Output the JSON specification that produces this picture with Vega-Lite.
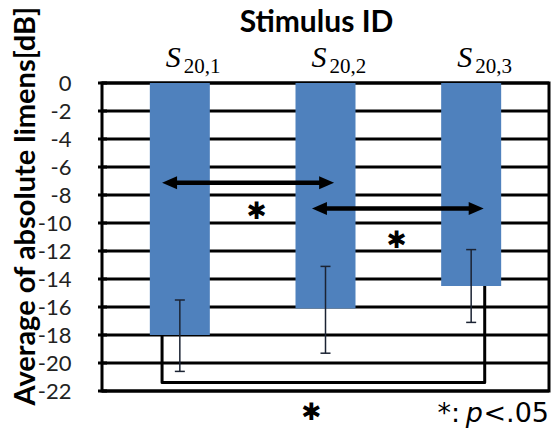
{
  "$schema": "https://vega.github.io/schema/vega-lite/v6.json",
  "width": 447,
  "height": 308,
  "autosize": {"type": "none"},
  "padding": {"left": 102, "top": 83, "right": 6, "bottom": 39},
  "background": "white",
  "config": {
    "view": {"stroke": "black", "strokeWidth": 3},
    "font": "Lato"
  },
  "resolve": {"axis": {"x": "independent", "y": "independent"}},
  "datasets": {
    "gridvals": [
      {"v": 0}, {"v": -2}, {"v": -4}, {"v": -6}, {"v": -8}, {"v": -10},
      {"v": -12}, {"v": -14}, {"v": -16}, {"v": -18}, {"v": -20}, {"v": -22}
    ],
    "bars": [
      {"x": 0.5, "sub": "20,1", "mean": -18.0, "hi": -15.5, "lo": -20.6},
      {"x": 1.5, "sub": "20,2", "mean": -16.1, "hi": -13.1, "lo": -19.3},
      {"x": 2.5, "sub": "20,3", "mean": -14.5, "hi": -11.9, "lo": -17.1}
    ],
    "arrows": [
      {"y": -7.13, "x1": 0.378, "x2": 1.559},
      {"y": -8.97, "x1": 1.407, "x2": 2.586}
    ],
    "bracket": [
      {"o": 1, "x": 0.378, "y": -18.0},
      {"o": 2, "x": 0.378, "y": -21.4},
      {"o": 3, "x": 2.593, "y": -21.4},
      {"o": 4, "x": 2.593, "y": -14.5}
    ],
    "stars": [
      {"x": 1.027, "y": -9.22},
      {"x": 1.987, "y": -11.25},
      {"x": 1.403, "y": -23.6}
    ]
  },
  "layer": [
    {
      "data": {"name": "gridvals"},
      "mark": {"type": "rule", "color": "black", "strokeWidth": 3},
      "encoding": {
        "y": {"field": "v", "type": "quantitative", "scale": {"domain": [-22, 0], "nice": false, "zero": false}, "axis": null}
      }
    },
    {
      "data": {"name": "gridvals"},
      "mark": {"type": "rule", "color": "black", "strokeWidth": 3, "xOffset": -9, "clip": false},
      "encoding": {
        "x": {"datum": 0, "type": "quantitative", "scale": {"domain": [0, 3], "nice": false, "zero": false}, "axis": null},
        "x2": {"datum": 0},
        "y": {"field": "v", "type": "quantitative", "scale": {"domain": [-22, 0], "nice": false, "zero": false}, "axis": null}
      }
    },
    {
      "data": {"name": "bars"},
      "mark": {"type": "bar", "width": 60, "color": "#4F81BD"},
      "encoding": {
        "x": {
          "field": "x", "type": "quantitative",
          "scale": {"domain": [0, 3], "nice": false, "zero": false},
          "axis": {
            "orient": "top", "title": "Stimulus ID", "labels": false, "ticks": false,
            "domain": false, "grid": false,
            "titleFont": "Lato", "titleFontSize": 30, "titleFontWeight": "bold", "titleColor": "black",
            "titleX": 214, "titleY": -52, "titleBaseline": "alphabetic", "titleAlign": "center"
          }
        },
        "y": {
          "field": "mean", "type": "quantitative",
          "scale": {"domain": [-22, 0], "nice": false, "zero": false},
          "axis": {
            "values": [0, -2, -4, -6, -8, -10, -12, -14, -16, -18, -20, -22],
            "labelExpr": "datum.value < 0 ? '-' + abs(datum.value) : '0'",
            "labelOverlap": false, "labelFlush": false,
            "grid": false, "domain": false, "ticks": false,
            "labelFont": "Lato", "labelFontSize": 22, "labelColor": "#222", "labelPadding": 31,
            "title": "Average of absolute limens[dB]",
            "titleFont": "Lato", "titleFontSize": 29, "titleFontWeight": "bold", "titleColor": "black",
            "titleX": -68, "titleY": 322, "titleAlign": "left", "titleBaseline": "alphabetic", "titleAngle": -90
          }
        },
        "y2": {"datum": 0}
      }
    },
    {
      "data": {"name": "bars"},
      "mark": {"type": "rule", "color": "#1b2333", "strokeWidth": 1.5},
      "encoding": {
        "x": {"field": "x", "type": "quantitative", "scale": {"domain": [0, 3], "nice": false, "zero": false}, "axis": null},
        "y": {"field": "hi", "type": "quantitative", "scale": {"domain": [-22, 0], "nice": false, "zero": false}, "axis": null},
        "y2": {"field": "lo"}
      }
    },
    {
      "data": {"name": "bars"},
      "mark": {"type": "tick", "orient": "horizontal", "size": 10, "thickness": 1.5, "color": "#1b2333", "opacity": 1},
      "encoding": {
        "x": {"field": "x", "type": "quantitative", "scale": {"domain": [0, 3], "nice": false, "zero": false}, "axis": null},
        "y": {"field": "hi", "type": "quantitative", "scale": {"domain": [-22, 0], "nice": false, "zero": false}, "axis": null}
      }
    },
    {
      "data": {"name": "bars"},
      "mark": {"type": "tick", "orient": "horizontal", "size": 10, "thickness": 1.5, "color": "#1b2333", "opacity": 1},
      "encoding": {
        "x": {"field": "x", "type": "quantitative", "scale": {"domain": [0, 3], "nice": false, "zero": false}, "axis": null},
        "y": {"field": "lo", "type": "quantitative", "scale": {"domain": [-22, 0], "nice": false, "zero": false}, "axis": null}
      }
    },
    {
      "data": {"name": "bracket"},
      "mark": {"type": "line", "color": "black", "strokeWidth": 3, "strokeJoin": "round", "clip": false},
      "encoding": {
        "x": {"field": "x", "type": "quantitative", "scale": {"domain": [0, 3], "nice": false, "zero": false}, "axis": null},
        "y": {"field": "y", "type": "quantitative", "scale": {"domain": [-22, 0], "nice": false, "zero": false}, "axis": null},
        "order": {"field": "o", "type": "quantitative"}
      }
    },
    {
      "data": {"name": "arrows"},
      "mark": {"type": "rule", "color": "black", "strokeWidth": 4.5, "xOffset": 10, "x2Offset": -10},
      "encoding": {
        "x": {"field": "x1", "type": "quantitative", "scale": {"domain": [0, 3], "nice": false, "zero": false}, "axis": null},
        "x2": {"field": "x2"},
        "y": {"field": "y", "type": "quantitative", "scale": {"domain": [-22, 0], "nice": false, "zero": false}, "axis": null}
      }
    },
    {
      "data": {"name": "arrows"},
      "mark": {"type": "point", "shape": "M 0 0 L 2 -0.87 L 2 0.87 Z", "size": 225, "filled": true, "color": "black", "opacity": 1, "strokeWidth": 0},
      "encoding": {
        "x": {"field": "x1", "type": "quantitative", "scale": {"domain": [0, 3], "nice": false, "zero": false}, "axis": null},
        "y": {"field": "y", "type": "quantitative", "scale": {"domain": [-22, 0], "nice": false, "zero": false}, "axis": null}
      }
    },
    {
      "data": {"name": "arrows"},
      "mark": {"type": "point", "shape": "M 0 0 L -2 -0.87 L -2 0.87 Z", "size": 225, "filled": true, "color": "black", "opacity": 1, "strokeWidth": 0},
      "encoding": {
        "x": {"field": "x2", "type": "quantitative", "scale": {"domain": [0, 3], "nice": false, "zero": false}, "axis": null},
        "y": {"field": "y", "type": "quantitative", "scale": {"domain": [-22, 0], "nice": false, "zero": false}, "axis": null}
      }
    },
    {
      "data": {"name": "stars"},
      "mark": {"type": "text", "text": "✱", "font": "DejaVu Sans", "fontSize": 24, "color": "black", "align": "center", "baseline": "middle", "clip": false},
      "encoding": {
        "x": {"field": "x", "type": "quantitative", "scale": {"domain": [0, 3], "nice": false, "zero": false}, "axis": null},
        "y": {"field": "y", "type": "quantitative", "scale": {"domain": [-22, 0], "nice": false, "zero": false}, "axis": null}
      }
    },
    {
      "data": {"name": "bars"},
      "mark": {"type": "text", "text": "S", "font": "Liberation Serif", "fontStyle": "italic", "fontSize": 30, "color": "black", "align": "left", "baseline": "alphabetic", "dx": -14, "dy": -16},
      "encoding": {
        "x": {"field": "x", "type": "quantitative", "scale": {"domain": [0, 3], "nice": false, "zero": false}, "axis": null},
        "y": {"datum": 0, "type": "quantitative", "scale": {"domain": [-22, 0], "nice": false, "zero": false}, "axis": null}
      }
    },
    {
      "data": {"name": "bars"},
      "mark": {"type": "text", "font": "Liberation Serif", "fontSize": 21, "color": "black", "align": "left", "baseline": "alphabetic", "dx": 4, "dy": -10},
      "encoding": {
        "x": {"field": "x", "type": "quantitative", "scale": {"domain": [0, 3], "nice": false, "zero": false}, "axis": null},
        "y": {"datum": 0, "type": "quantitative", "scale": {"domain": [-22, 0], "nice": false, "zero": false}, "axis": null},
        "text": {"field": "sub"}
      }
    },
    {
      "data": {"values": [{"t": "<.05"}]},
      "mark": {"type": "text", "font": "DejaVu Sans", "fontSize": 27, "color": "black", "align": "right", "baseline": "alphabetic", "dx": 5, "dy": 31},
      "encoding": {
        "x": {"datum": 3, "type": "quantitative", "scale": {"domain": [0, 3], "nice": false, "zero": false}, "axis": null},
        "y": {"datum": -22, "type": "quantitative", "scale": {"domain": [-22, 0], "nice": false, "zero": false}, "axis": null},
        "text": {"field": "t"}
      }
    },
    {
      "data": {"values": [{"t": "p"}]},
      "mark": {"type": "text", "font": "DejaVu Sans", "fontStyle": "italic", "fontSize": 27, "color": "black", "align": "right", "baseline": "alphabetic", "dx": -61, "dy": 31},
      "encoding": {
        "x": {"datum": 3, "type": "quantitative", "scale": {"domain": [0, 3], "nice": false, "zero": false}, "axis": null},
        "y": {"datum": -22, "type": "quantitative", "scale": {"domain": [-22, 0], "nice": false, "zero": false}, "axis": null},
        "text": {"field": "t"}
      }
    },
    {
      "data": {"values": [{"t": "*:"}]},
      "mark": {"type": "text", "font": "DejaVu Sans", "fontSize": 27, "color": "black", "align": "right", "baseline": "alphabetic", "dx": -84, "dy": 31},
      "encoding": {
        "x": {"datum": 3, "type": "quantitative", "scale": {"domain": [0, 3], "nice": false, "zero": false}, "axis": null},
        "y": {"datum": -22, "type": "quantitative", "scale": {"domain": [-22, 0], "nice": false, "zero": false}, "axis": null},
        "text": {"field": "t"}
      }
    }
  ]
}
